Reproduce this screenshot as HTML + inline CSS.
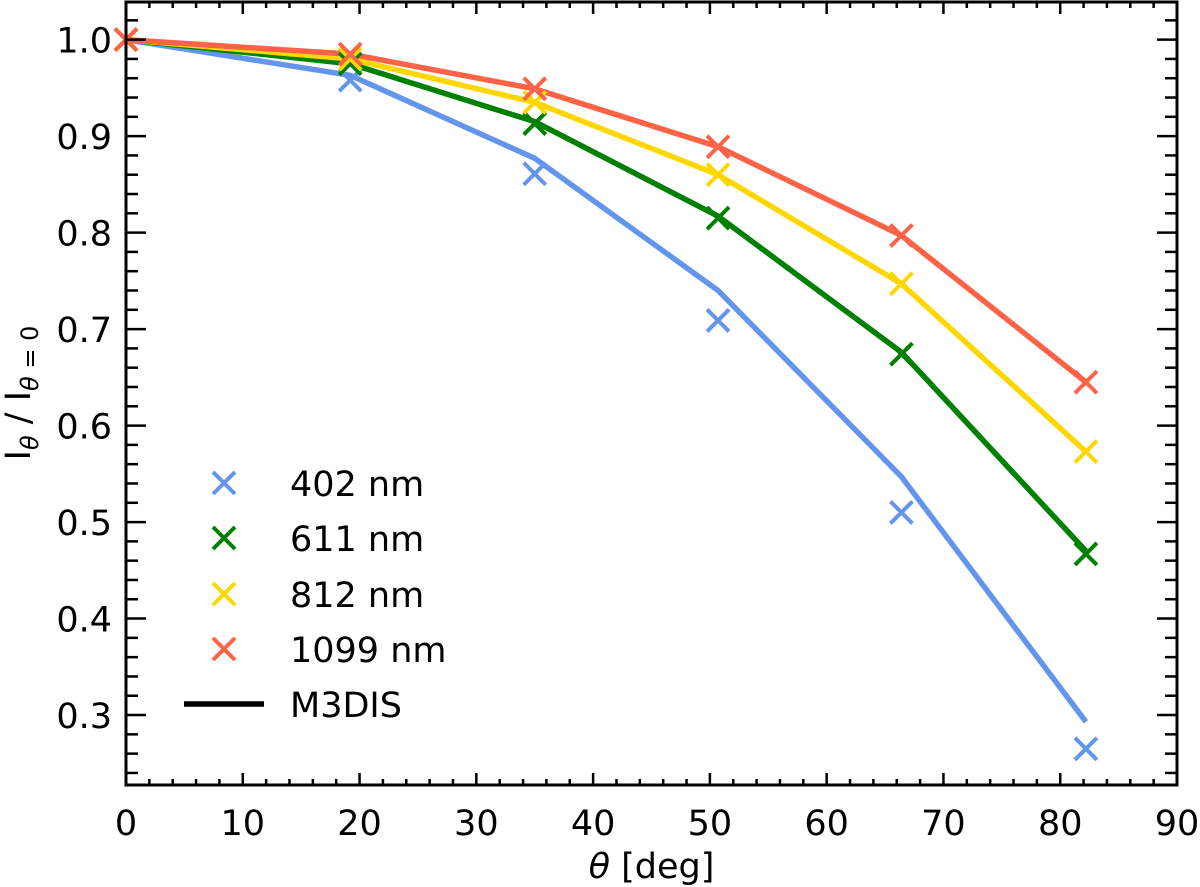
<!DOCTYPE html>
<html><head><meta charset="utf-8"><style>
html,body{margin:0;padding:0;background:#fff;}
svg{display:block;font-family:"DejaVu Sans","Liberation Sans",sans-serif;}
</style></head><body>
<svg id="chart" width="1200" height="887" xmlns="http://www.w3.org/2000/svg"></svg>
<script>
const angles = [0, 19.2, 35.0, 50.7, 66.4, 82.2];
const seriesNames = ['402 nm','611 nm','812 nm','1099 nm'];
const seriesColors = ['#6495ed','#008000','#ffd700','#ff6347'];
const obs402 = [1.0, 0.958, 0.861, 0.709, 0.510, 0.265];
const obs611 = [1.0, 0.975, 0.913, 0.815, 0.674, 0.467];
const obs812 = [1.0, 0.980, 0.935, 0.860, 0.747, 0.573];
const obs1099 = [1.0, 0.985, 0.949, 0.889, 0.797, 0.645];
const mod402 = [1.0, 0.963, 0.877, 0.740, 0.547, 0.293];
const mod611 = [1.0, 0.975, 0.915, 0.817, 0.676, 0.470];
const mod812 = [1.0, 0.980, 0.935, 0.860, 0.747, 0.573];
const mod1099 = [1.0, 0.985, 0.949, 0.889, 0.797, 0.645];
const xTicks = [0,10,20,30,40,50,60,70,80,90];
const yTicks = [0.3,0.4,0.5,0.6,0.7,0.8,0.9,1.0];

const L=126,R=1177,T=2,B=785;
const xmin=0,xmax=90,ymin=0.2275,ymax=1.039;
const X=v=>L+(v-xmin)/(xmax-xmin)*(R-L);
const Y=v=>B-(v-ymin)/(ymax-ymin)*(B-T);
const svg=document.getElementById('chart');
const NS='http://www.w3.org/2000/svg';
function mk(tag,attrs,parent){const e=document.createElementNS(NS,tag);for(const k in attrs)e.setAttribute(k,attrs[k]);(parent||svg).appendChild(e);return e;}

const obs=[obs402,obs611,obs812,obs1099];
const mod=[mod402,mod611,mod812,mod1099];
function cross(cx,cy,col,g){
  const s=11;
  mk('line',{x1:cx-s,y1:cy-s,x2:cx+s,y2:cy+s,stroke:col,'stroke-width':4},g);
  mk('line',{x1:cx-s,y1:cy+s,x2:cx+s,y2:cy-s,stroke:col,'stroke-width':4},g);
}
for(let s=0;s<4;s++){
  const g=mk('g',{});
  
  
  const pl=mk('polyline',{points:angles.map((a,i)=>X(a)+','+Y(mod[s][i])).join(' '),fill:'none',stroke:seriesColors[s],'stroke-width':5.5,'stroke-linejoin':'round'},g);
  
  
}
for(let s=0;s<4;s++){
  const g=mk('g',{});
  
  
  angles.forEach((a,i)=>cross(X(a),Y(obs[s][i]),seriesColors[s],g));
}

const ax=mk('g',{});


for(let v=0;v<=90;v+=2){
  const major=v%10===0,len=major?12:6;
  mk('line',{x1:X(v),y1:B,x2:X(v),y2:B-len,stroke:'#000','stroke-width':2.5},ax);
  mk('line',{x1:X(v),y1:T,x2:X(v),y2:T+len,stroke:'#000','stroke-width':2.5},ax);
}
for(let k=12;k<=51;k++){
  const v=k*0.02,major=k%5===0,len=major?20:12;
  if(Y(v)>B||Y(v)<T)continue;
  mk('line',{x1:L,y1:Y(v),x2:L+len,y2:Y(v),stroke:'#000','stroke-width':2.5},ax);
  mk('line',{x1:R,y1:Y(v),x2:R-len,y2:Y(v),stroke:'#000','stroke-width':2.5},ax);
}
mk('rect',{x:L,y:T,width:R-L,height:B-T,fill:'none',stroke:'#000','stroke-width':3},ax);
xTicks.forEach(v=>{const t=mk('text',{x:X(v),y:B+50,'font-size':35,'text-anchor':'middle'},ax);t.textContent=v;
  
  });
yTicks.forEach(v=>{const t=mk('text',{x:L-14,y:Y(v)+13,'font-size':35,'text-anchor':'end'},ax);t.textContent=v.toFixed(1);
  
  });
const xl=mk('text',{x:(L+R)/2,y:878,'font-size':35,'text-anchor':'middle'});
xl.innerHTML='<tspan font-style="italic">θ</tspan> [deg]';


const yl=mk('text',{x:0,y:0,'font-size':35,'text-anchor':'middle',transform:'translate(30,393) rotate(-90)'});
yl.innerHTML='I<tspan font-size="24" font-style="italic" dy="8">θ</tspan><tspan dy="-8"> / I</tspan><tspan font-size="24" dy="8"><tspan font-style="italic">θ</tspan> = 0</tspan>';



const lg=mk('g',{});


const rows=[483,538,594,649,704];
for(let s=0;s<4;s++){
  cross(224,rows[s],seriesColors[s],lg);
  const t=mk('text',{x:290,y:rows[s]+13,'font-size':35},lg);t.textContent=seriesNames[s];
  
  
}
mk('line',{x1:184,y1:rows[4],x2:264,y2:rows[4],stroke:'#000','stroke-width':5.5},lg);
const mt=mk('text',{x:290,y:rows[4]+13,'font-size':35},lg);mt.textContent='M3DIS';


</script>
</body></html>
